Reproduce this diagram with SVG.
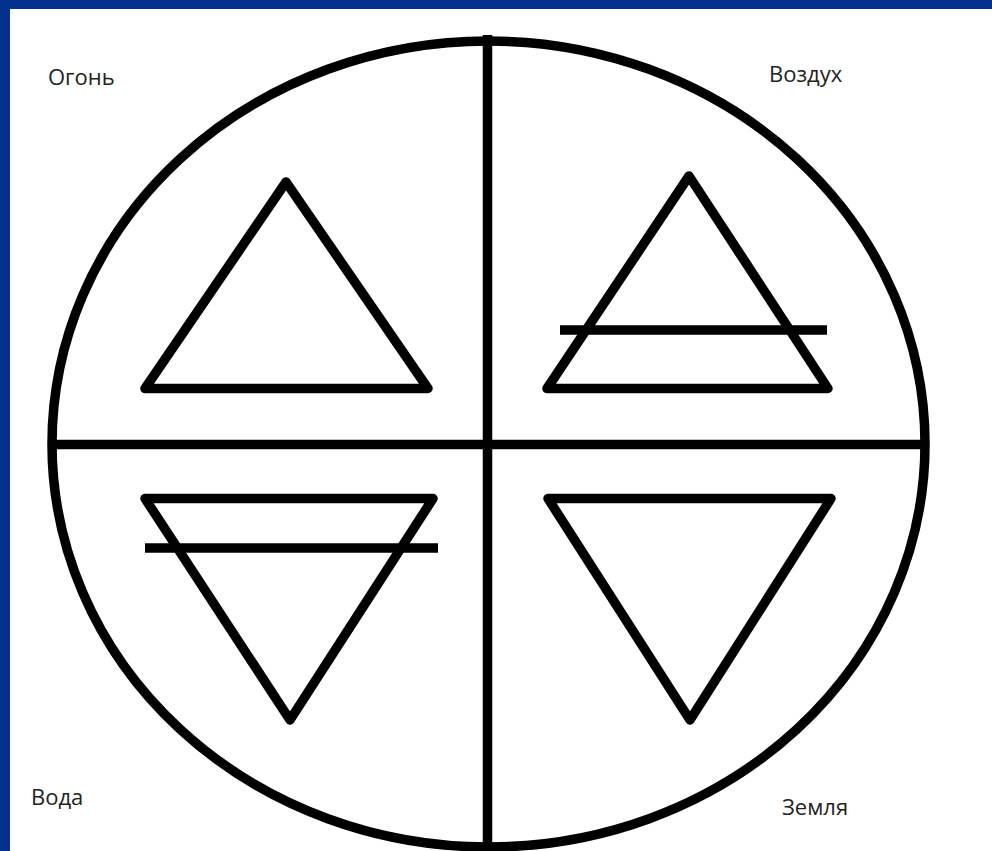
<svg xmlns="http://www.w3.org/2000/svg" width="992" height="851" viewBox="0 0 992 851">
<style>
.ln{fill:none;stroke:#000;stroke-width:9.5;stroke-linejoin:round;stroke-linecap:butt}
.lb{font-family:"Open Sans","Liberation Sans",Arial,sans-serif;font-size:22px;fill:#222}
</style>
<rect x="0" y="0" width="992" height="851" fill="#02318e"/>
<rect x="10" y="9" width="982" height="842" fill="#fff"/>
<g id="circle"><ellipse class="ln" cx="488.5" cy="444" rx="436.5" ry="403"/></g>
<g id="connectors">
<line class="ln" x1="487.5" y1="35" x2="487.5" y2="851"/>
<line class="ln" x1="52" y1="444.5" x2="925" y2="444.5"/>
</g>
<g id="fire"><polygon class="ln" points="286,182 145,388.5 428,388.5"/><text class="lb" x="48" y="85">Огонь</text></g>
<g id="air"><polygon class="ln" points="689,176 547,388.5 828,388.5"/><line class="ln" x1="560" y1="330" x2="827" y2="330"/><text class="lb" x="769" y="82">Воздух</text></g>
<g id="water"><polygon class="ln" points="145,498.5 433,498.5 290,720"/><line class="ln" x1="145" y1="548" x2="438" y2="548"/><text class="lb" x="31" y="805">Вода</text></g>
<g id="earth"><polygon class="ln" points="548,498.5 831,498.5 690,720"/><text class="lb" x="782" y="815">Земля</text></g>
</svg>
